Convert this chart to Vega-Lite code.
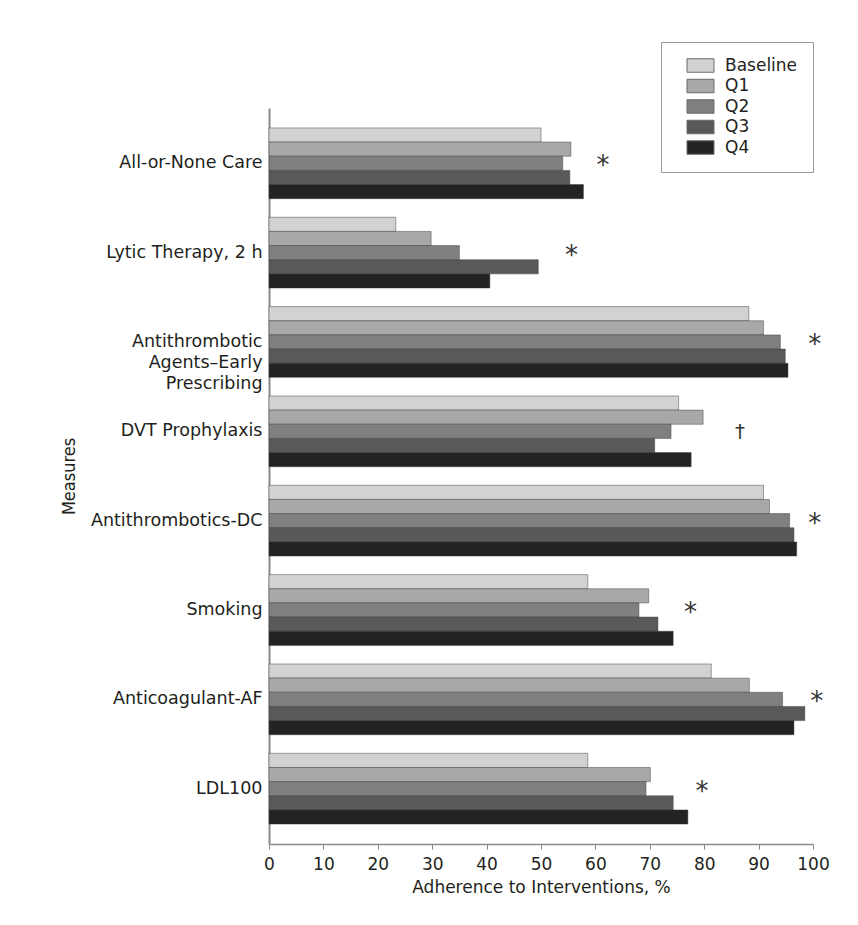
{
  "$schema": "https://vega.github.io/schema/vega-lite/v6.json",
  "width": 544,
  "height": 736,
  "autosize": {"type": "none"},
  "padding": {"left": 269, "top": 108, "right": 45, "bottom": 81},
  "background": "white",
  "config": {
    "font": "DejaVu Sans",
    "view": {"stroke": null},
    "axis": {"labelColor": "#231f20", "titleColor": "#231f20", "grid": false, "domainColor": "#8a8a8a", "tickColor": "#8a8a8a"}
  },
  "datasets": {
    "bars": [
      {"Measure": "All-or-None Care", "Period": "Baseline", "Adherence": 50.0},
      {"Measure": "All-or-None Care", "Period": "Q1", "Adherence": 55.5},
      {"Measure": "All-or-None Care", "Period": "Q2", "Adherence": 54.0},
      {"Measure": "All-or-None Care", "Period": "Q3", "Adherence": 55.3},
      {"Measure": "All-or-None Care", "Period": "Q4", "Adherence": 57.8},
      {"Measure": "Lytic Therapy, 2 h", "Period": "Baseline", "Adherence": 23.3},
      {"Measure": "Lytic Therapy, 2 h", "Period": "Q1", "Adherence": 29.8},
      {"Measure": "Lytic Therapy, 2 h", "Period": "Q2", "Adherence": 35.0},
      {"Measure": "Lytic Therapy, 2 h", "Period": "Q3", "Adherence": 49.5},
      {"Measure": "Lytic Therapy, 2 h", "Period": "Q4", "Adherence": 40.6},
      {"Measure": "Antithrombotic Agents–Early Prescribing", "Period": "Baseline", "Adherence": 88.2},
      {"Measure": "Antithrombotic Agents–Early Prescribing", "Period": "Q1", "Adherence": 90.9},
      {"Measure": "Antithrombotic Agents–Early Prescribing", "Period": "Q2", "Adherence": 94.0},
      {"Measure": "Antithrombotic Agents–Early Prescribing", "Period": "Q3", "Adherence": 94.9},
      {"Measure": "Antithrombotic Agents–Early Prescribing", "Period": "Q4", "Adherence": 95.4},
      {"Measure": "DVT Prophylaxis", "Period": "Baseline", "Adherence": 75.3},
      {"Measure": "DVT Prophylaxis", "Period": "Q1", "Adherence": 79.8},
      {"Measure": "DVT Prophylaxis", "Period": "Q2", "Adherence": 73.9},
      {"Measure": "DVT Prophylaxis", "Period": "Q3", "Adherence": 70.9},
      {"Measure": "DVT Prophylaxis", "Period": "Q4", "Adherence": 77.6},
      {"Measure": "Antithrombotics-DC", "Period": "Baseline", "Adherence": 90.9},
      {"Measure": "Antithrombotics-DC", "Period": "Q1", "Adherence": 92.0},
      {"Measure": "Antithrombotics-DC", "Period": "Q2", "Adherence": 95.7},
      {"Measure": "Antithrombotics-DC", "Period": "Q3", "Adherence": 96.5},
      {"Measure": "Antithrombotics-DC", "Period": "Q4", "Adherence": 97.0},
      {"Measure": "Smoking", "Period": "Baseline", "Adherence": 58.6},
      {"Measure": "Smoking", "Period": "Q1", "Adherence": 69.8},
      {"Measure": "Smoking", "Period": "Q2", "Adherence": 68.0},
      {"Measure": "Smoking", "Period": "Q3", "Adherence": 71.5},
      {"Measure": "Smoking", "Period": "Q4", "Adherence": 74.3},
      {"Measure": "Anticoagulant-AF", "Period": "Baseline", "Adherence": 81.3},
      {"Measure": "Anticoagulant-AF", "Period": "Q1", "Adherence": 88.3},
      {"Measure": "Anticoagulant-AF", "Period": "Q2", "Adherence": 94.4},
      {"Measure": "Anticoagulant-AF", "Period": "Q3", "Adherence": 98.5},
      {"Measure": "Anticoagulant-AF", "Period": "Q4", "Adherence": 96.5},
      {"Measure": "LDL100", "Period": "Baseline", "Adherence": 58.6},
      {"Measure": "LDL100", "Period": "Q1", "Adherence": 70.1},
      {"Measure": "LDL100", "Period": "Q2", "Adherence": 69.3},
      {"Measure": "LDL100", "Period": "Q3", "Adherence": 74.3},
      {"Measure": "LDL100", "Period": "Q4", "Adherence": 77.0}
    ],
    "markers": [
      {"Measure": "All-or-None Care", "Mark": "*", "Position": 61.4},
      {"Measure": "Lytic Therapy, 2 h", "Mark": "*", "Position": 55.6},
      {"Measure": "Antithrombotic Agents–Early Prescribing", "Mark": "*", "Position": 100.3},
      {"Measure": "DVT Prophylaxis", "Mark": "†", "Position": 86.6},
      {"Measure": "Antithrombotics-DC", "Mark": "*", "Position": 100.3},
      {"Measure": "Smoking", "Mark": "*", "Position": 77.5},
      {"Measure": "Anticoagulant-AF", "Mark": "*", "Position": 100.7},
      {"Measure": "LDL100", "Mark": "*", "Position": 79.6}
    ]
  },
  "layer": [
    {
      "data": {"name": "bars"},
      "mark": {"type": "bar", "strokeWidth": 1, "stroke": "#3a3a3a", "strokeOpacity": 0.45},
      "encoding": {
        "y": {
          "field": "Measure", "type": "nominal",
          "sort": ["All-or-None Care", "Lytic Therapy, 2 h", "Antithrombotic Agents–Early Prescribing", "DVT Prophylaxis", "Antithrombotics-DC", "Smoking", "Anticoagulant-AF", "LDL100"],
          "scale": {"paddingInner": 0.208, "paddingOuter": 0.223},
          "axis": {
            "title": "Measures",
            "titleFont": "DejaVu Sans Condensed, Liberation Sans",
            "titleFontSize": 18,
            "titleFontWeight": "normal",
            "titlePadding": 12,
            "labelFontSize": 17.5,
            "labelPadding": 7,
            "ticks": false,
            "domainWidth": 2,
            "labelLineHeight": 21,
            "labelExpr": "datum.label == 'Antithrombotic Agents–Early Prescribing' ? ['Antithrombotic ', 'Agents–Early', 'Prescribing'] : datum.label"
          }
        },
        "yOffset": {
          "field": "Period", "type": "nominal",
          "sort": ["Baseline", "Q1", "Q2", "Q3", "Q4"],
          "scale": {"paddingInner": 0, "paddingOuter": 0}
        },
        "x": {
          "field": "Adherence", "type": "quantitative",
          "scale": {"domain": [0, 100], "nice": false},
          "axis": {
            "title": "Adherence to Interventions, %",
            "titleFontSize": 17,
            "titleFontWeight": "normal",
            "titlePadding": 7,
            "labelFontSize": 17,
            "labelPadding": 7,
            "labelFlush": false,
            "labelOverlap": false,
            "tickSize": 5,
            "values": [0, 10, 20, 30, 40, 50, 60, 70, 80, 90, 100],
            "domainWidth": 1.5
          }
        },
        "fill": {
          "field": "Period", "type": "nominal",
          "sort": ["Baseline", "Q1", "Q2", "Q3", "Q4"],
          "scale": {"range": ["#d1d2d4", "#a7a8aa", "#7f8082", "#58595b", "#252223"]},
          "legend": {
            "title": null, "orient": "none", "legendX": 392, "legendY": -66,
            "strokeColor": "#999999", "fillColor": "white", "padding": 15,
            "labelFontSize": 17, "labelColor": "#231f20", "labelOffset": 16,
            "symbolType": "M-2,-1L2,-1L2,1L-2,1Z", "symbolSize": 182,
            "symbolStrokeWidth": 1, "symbolStrokeColor": "#6a6a6a", "symbolOffset": 16, "rowPadding": 1.5
          }
        }
      }
    },
    {
      "data": {"name": "markers"},
      "transform": [{"filter": "datum.Mark == '*'"}],
      "mark": {"type": "text", "fontSize": 26, "baseline": "alphabetic", "dy": 11, "color": "#333333"},
      "encoding": {
        "y": {
          "field": "Measure", "type": "nominal",
          "sort": ["All-or-None Care", "Lytic Therapy, 2 h", "Antithrombotic Agents–Early Prescribing", "DVT Prophylaxis", "Antithrombotics-DC", "Smoking", "Anticoagulant-AF", "LDL100"]
        },
        "x": {"field": "Position", "type": "quantitative"},
        "text": {"field": "Mark"}
      }
    },
    {
      "data": {"name": "markers"},
      "transform": [{"filter": "datum.Mark != '*'"}],
      "mark": {"type": "text", "fontSize": 20, "baseline": "middle", "dy": 1, "color": "#333333"},
      "encoding": {
        "y": {
          "field": "Measure", "type": "nominal",
          "sort": ["All-or-None Care", "Lytic Therapy, 2 h", "Antithrombotic Agents–Early Prescribing", "DVT Prophylaxis", "Antithrombotics-DC", "Smoking", "Anticoagulant-AF", "LDL100"]
        },
        "x": {"field": "Position", "type": "quantitative"},
        "text": {"field": "Mark"}
      }
    }
  ]
}
